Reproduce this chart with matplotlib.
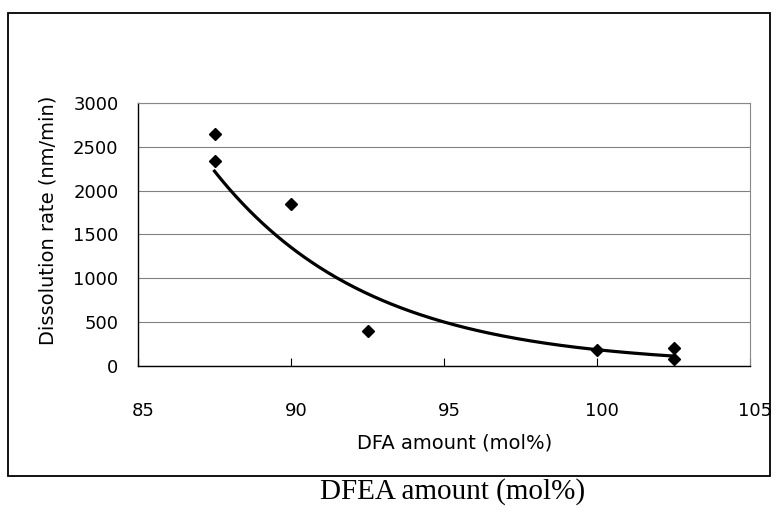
import matplotlib.pyplot as plt
import matplotlib.transforms as mtransforms
import numpy as np
from matplotlib.patches import Rectangle

# measured points (DFA amount vs dissolution rate)
dfa_mol = [87.5, 87.5, 90.0, 92.5, 100.0, 102.5, 102.5]
rate_nm_min = [2650, 2340, 1850, 400, 180, 200, 80]

x_ticks = [85, 90, 95, 100, 105]
y_ticks = [0, 500, 1000, 1500, 2000, 2500, 3000]

fig = plt.figure(figsize=(7.77, 5.18), dpi=100)
ax = fig.add_axes([0.1776, 0.2934, 0.7877, 0.5078])

# exponential trendline, like the spreadsheet one
b, ln_a = np.polyfit(dfa_mol, np.log(rate_nm_min), 1)
xs = np.linspace(min(dfa_mol), max(dfa_mol), 200)
ax.plot(xs, np.exp(ln_a + b * xs), color='black', lw=2.3, zorder=3)

ax.plot(dfa_mol, rate_nm_min, 'D', color='black', ms=6.5, zorder=4)

ax.set_xlim(85, 105)
ax.set_ylim(0, 3000)
ax.set_xticks(x_ticks)
ax.set_yticks(y_ticks)
ax.yaxis.grid(True, color='#808080', lw=0.8)
ax.set_axisbelow(True)

for side in ['top', 'right']:
    ax.spines[side].set_color('#888888')
    ax.spines[side].set_linewidth(0.8)
for side in ['left', 'bottom']:
    ax.spines[side].set_color('black')
    ax.spines[side].set_linewidth(1.0)

font = 'DejaVu Sans'
ax.tick_params(axis='y', length=0, pad=14, labelsize=13)
ax.tick_params(axis='x', direction='in', length=6, pad=26, labelsize=13)
shift = mtransforms.ScaledTranslation(5 / 100, 0, fig.dpi_scale_trans)
for lab in ax.get_xticklabels():
    lab.set_transform(lab.get_transform() + shift)
for lab in ax.get_xticklabels() + ax.get_yticklabels():
    lab.set_family(font)

ax.set_xlabel('DFA amount (mol%)', fontsize=14, family=font)
ax.xaxis.set_label_coords(0.518, -0.255)
ax.set_ylabel('Dissolution rate (nm/min)', fontsize=14, family=font)
ax.yaxis.set_label_coords(-0.131, 0.553)

# outer frame around the chart
fig.add_artist(Rectangle((8 / 777, 1 - 476 / 518), 762 / 777, 463 / 518,
                         transform=fig.transFigure, fill=False,
                         edgecolor='black', lw=1.3))

fig.text(0.582, 1 - 492 / 518, 'DFEA amount (mol%)', ha='center', va='center',
         fontsize=21, family='Liberation Serif')

fig.savefig('out.png', dpi=100)
